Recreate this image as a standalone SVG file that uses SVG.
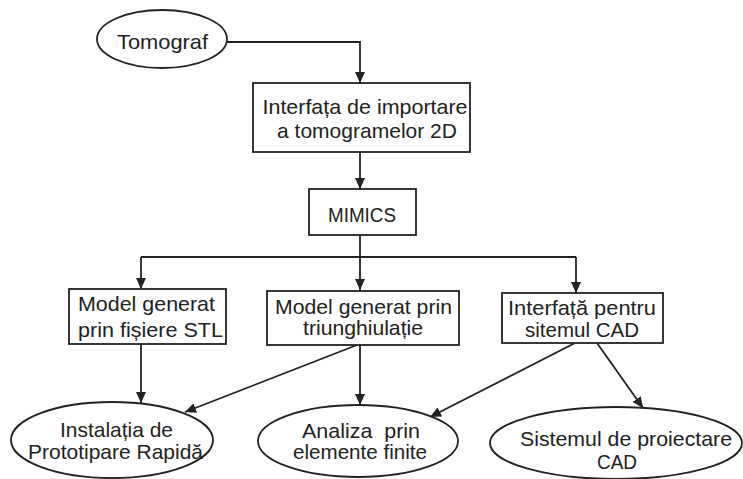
<svg xmlns="http://www.w3.org/2000/svg" width="743" height="479" viewBox="0 0 743 479">
<style>
.shape{fill:#fff;stroke:#222;stroke-width:1.8}
.edge{fill:none;stroke:#222;stroke-width:1.8}
text{font-family:"Liberation Sans",Arial,sans-serif;font-size:21px;fill:#222;text-anchor:middle;white-space:pre}
</style>
<defs>
<marker id="arr" markerUnits="userSpaceOnUse" markerWidth="11" markerHeight="10" refX="11" refY="5" orient="auto">
<path d="M0,0 L11,5 L0,10 z" fill="#222"/>
</marker>
</defs>
<rect width="743" height="479" fill="#fff"/>
<g id="connectors">
<path class="edge" d="M227,42 H360 V83" marker-end="url(#arr)"/>
<path class="edge" d="M360,152 V189" marker-end="url(#arr)"/>
<path class="edge" d="M360,235 V290" marker-end="url(#arr)"/>
<path class="edge" d="M141,257 H576"/>
<path class="edge" d="M141,257 V289" marker-end="url(#arr)"/>
<path class="edge" d="M576,257 V293" marker-end="url(#arr)"/>
<path class="edge" d="M141,344 V403" marker-end="url(#arr)"/>
<path class="edge" d="M357,345 L185,412" marker-end="url(#arr)"/>
<path class="edge" d="M360,345 V405" marker-end="url(#arr)"/>
<path class="edge" d="M575,343 L430,417" marker-end="url(#arr)"/>
<path class="edge" d="M597,343 L643,408" marker-end="url(#arr)"/>
</g>
<g id="tomograf">
<ellipse class="shape" cx="162" cy="39" rx="65" ry="29"/>
<text x="162.5" y="49" textLength="91" lengthAdjust="spacingAndGlyphs">Tomograf</text>
</g>
<g id="interfata-import">
<rect class="shape" x="253" y="83" width="217" height="69"/>
<text x="365" y="114" textLength="205" lengthAdjust="spacingAndGlyphs">Interfața de importare</text>
<text x="367" y="138" textLength="180" lengthAdjust="spacingAndGlyphs">a tomogramelor 2D</text>
</g>
<g id="mimics">
<rect class="shape" x="309" y="189" width="107" height="46"/>
<text x="362" y="222" textLength="68" lengthAdjust="spacingAndGlyphs">MIMICS</text>
</g>
<g id="model-stl">
<rect class="shape" x="69" y="289" width="157" height="55"/>
<text x="146.5" y="311" textLength="137" lengthAdjust="spacingAndGlyphs">Model generat</text>
<text x="150.5" y="337" textLength="145" lengthAdjust="spacingAndGlyphs">prin fișiere STL</text>
</g>
<g id="model-triang">
<rect class="shape" x="267" y="291" width="192" height="54"/>
<text x="363.5" y="314" textLength="177" lengthAdjust="spacingAndGlyphs">Model generat prin</text>
<text x="363" y="335" textLength="120" lengthAdjust="spacingAndGlyphs">triunghiulație</text>
</g>
<g id="interfata-cad">
<rect class="shape" x="502" y="293" width="161" height="50"/>
<text x="582" y="315" textLength="148" lengthAdjust="spacingAndGlyphs">Interfață pentru</text>
<text x="582" y="337" textLength="114" lengthAdjust="spacingAndGlyphs">sitemul CAD</text>
</g>
<g id="instalatia">
<ellipse class="shape" cx="112" cy="440" rx="101" ry="38"/>
<text x="116.5" y="437" textLength="113" lengthAdjust="spacingAndGlyphs">Instalația de</text>
<text x="115.5" y="459" textLength="175" lengthAdjust="spacingAndGlyphs">Prototipare Rapidă</text>
</g>
<g id="analiza">
<ellipse class="shape" cx="358" cy="441" rx="100" ry="36"/>
<text x="361" y="438" textLength="118" lengthAdjust="spacingAndGlyphs">Analiza  prin</text>
<text x="360" y="459" textLength="134" lengthAdjust="spacingAndGlyphs">elemente finite</text>
</g>
<g id="sistemul">
<ellipse class="shape" cx="616" cy="443" rx="126" ry="36"/>
<text x="626" y="446" textLength="212" lengthAdjust="spacingAndGlyphs">Sistemul de proiectare</text>
<text x="617" y="469" textLength="40" lengthAdjust="spacingAndGlyphs">CAD</text>
</g>
</svg>
